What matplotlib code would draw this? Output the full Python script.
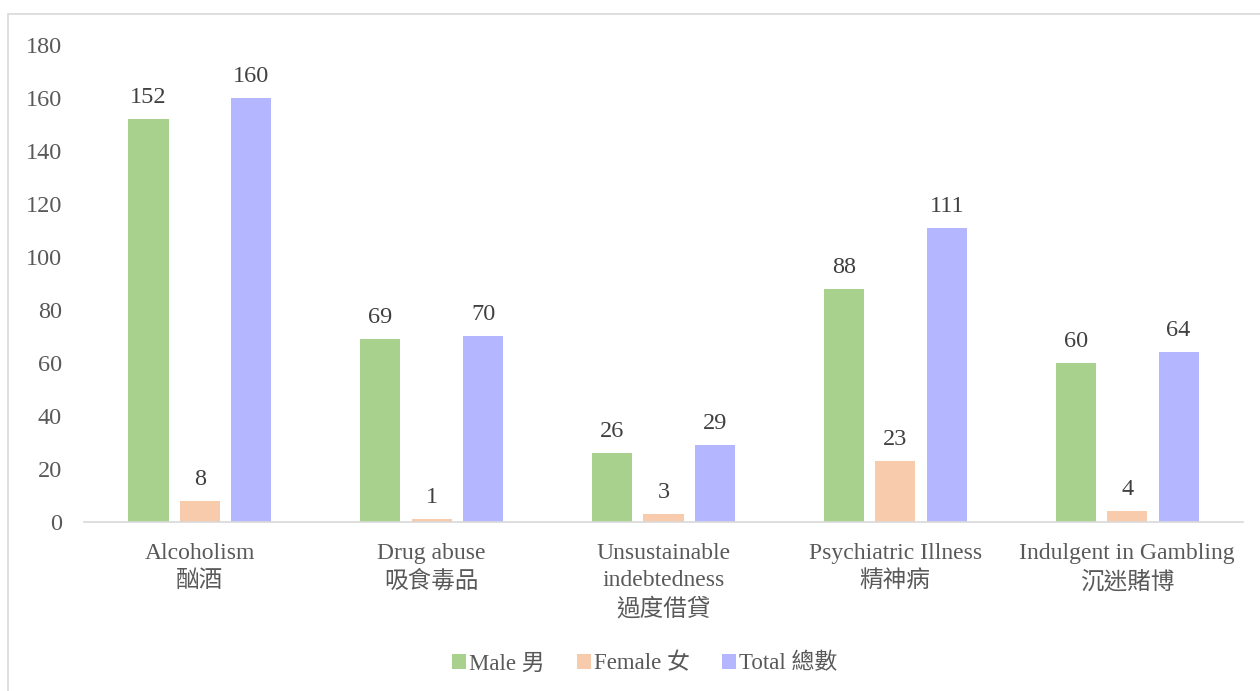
import numpy as np
import matplotlib
matplotlib.use('Agg')
import matplotlib.pyplot as plt
from matplotlib.patches import Rectangle

plt.rcParams['font.family'] = ['Liberation Serif', 'Noto Sans CJK TC', 'DejaVu Sans']

categories = ['Alcoholism\n酗酒', 'Drug abuse\n吸食毒品', 'Unsustainable\nindebtedness\n過度借貸',
              'Psychiatric Illness\n精神病', 'Indulgent in Gambling\n沉迷賭博']
male = [152, 69, 26, 88, 60]
female = [8, 1, 3, 23, 4]
total = [160, 70, 29, 111, 64]
series_names = ['Male 男', 'Female 女', 'Total 總數']
colors = ['#A9D18E', '#F8CBAD', '#B4B7FF']

fig = plt.figure(figsize=(12.6, 6.91), dpi=100)
ax = fig.add_axes([0.0667, 0.2446, 0.9198, 0.6903])

# outer chart border
fig.patches.append(Rectangle((8 / 1260, -0.05), 1.1, 1 - 14 / 691 + 0.05,
                             transform=fig.transFigure, fill=False,
                             edgecolor='#D9D9D9', linewidth=1.2))

x = np.arange(len(categories))
step = 0.222
width = 0.173
for i, (vals, name, c) in enumerate(zip([male, female, total], series_names, colors)):
    bars = ax.bar(x + (i - 1) * step, vals, width, color=c, label=name)
    for b, v in zip(bars, vals):
        ax.annotate(str(v), (b.get_x() + b.get_width() / 2, v),
                    xytext=(0, 8), textcoords='offset points',
                    ha='center', va='bottom', fontsize=17.5, color='#404040')

ax.set_xlim(-0.5, len(categories) - 0.5)
ax.set_ylim(0, 180)
ax.set_yticks(range(0, 181, 20))
ax.set_xticks(x)
ax.set_xticklabels(categories, fontsize=17, color='#595959', linespacing=1.38, va='top')
ax.tick_params(axis='y', length=0, pad=16, labelsize=17.5, labelcolor='#595959')
ax.tick_params(axis='x', length=0, pad=15)

for s in ['top', 'right', 'left']:
    ax.spines[s].set_visible(False)
ax.spines['bottom'].set_color('#D9D9D9')
ax.spines['bottom'].set_linewidth(1.2)

fig.legend(loc='center', bbox_to_anchor=(645 / 1260, 1 - 664 / 691), ncol=3,
           frameon=False, fontsize=16.5, handlelength=0.6, handleheight=0.6,
           handletextpad=0.15, columnspacing=1.4, labelcolor='#595959')

fig.savefig('out.png', dpi=100)
